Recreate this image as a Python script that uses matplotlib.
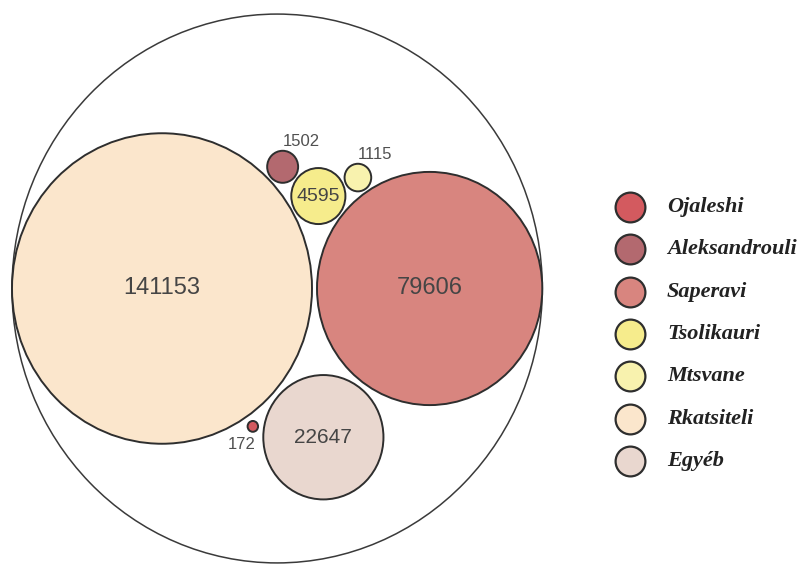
import numpy as np
import matplotlib.pyplot as plt
from matplotlib.patches import Ellipse

# grape varieties and their values
names = ["Ojaleshi", "Aleksandrouli", "Saperavi", "Tsolikauri", "Mtsvane", "Rkatsiteli", "Egyéb"]
values = [172, 1502, 79606, 4595, 1115, 141153, 22647]
colors = ["#d35a5f", "#b3696f", "#d8857f", "#f6ec8c", "#f8f2ae", "#fbe6cc", "#e9d7cf"]

# how the bubbles lean on each other: (bubble, neighbour a, neighbour b, side)
# side +1 = lower solution, -1 = upper solution
order = [(2, 5, None, 0), (6, 5, 2, 1), (3, 5, 2, -1), (1, 5, 3, -1), (4, 3, 2, -1), (0, 5, 6, 1)]

R_MAX = 150.0   # radius of the biggest bubble in px
STRETCH = 1.035  # the picture is a bit taller than wide
ORIGIN = (162.0, 288.5)

radii = R_MAX * np.sqrt(np.array(values) / max(values))
centers = {5: np.array([0.0, 0.0])}


def gap(r):
    return 3.0 if 10 < r < 30 else 6.0


def touch(i, j, r, side):
    ci, cj = centers[i], centers[j]
    d = np.hypot(*(cj - ci))
    a = radii[i] + r + gap(r)
    b = radii[j] + r + gap(r)
    x = (a ** 2 - b ** 2 + d ** 2) / (2 * d)
    h = np.sqrt(max(a ** 2 - x ** 2, 0))
    u = (cj - ci) / d
    n = np.array([-u[1], u[0]])
    p1 = ci + x * u + h * n
    p2 = ci + x * u - h * n
    return p1 if (p1[1] - p2[1]) * side > 0 else p2


for k, i, j, side in order:
    if j is None:
        centers[k] = centers[i] + np.array([radii[i] + radii[k] + 5.0, 0.0])
    else:
        centers[k] = touch(i, j, radii[k], side)


def to_px(p):
    return ORIGIN[0] + p[0], ORIGIN[1] + p[1] * STRETCH


fig = plt.figure(figsize=(8.12, 5.65), dpi=100)
ax = fig.add_axes([0, 0, 1, 1])
ax.set_xlim(0, 812)
ax.set_ylim(565, 0)
ax.axis("off")

# enclosing circle, touching the two biggest bubbles
cA, cB = centers[5], centers[2]
u = (cB - cA) / np.hypot(*(cB - cA))
left = cA - radii[5] * u
right = cB + radii[2] * u
oc = (left + right) / 2
orad = np.hypot(*(right - left)) / 2
ox, oy = to_px(oc)
ax.add_patch(Ellipse((ox, oy), 2 * orad, 2 * orad * STRETCH, facecolor="white",
                     edgecolor="#3a3a3a", lw=1.1, zorder=1))

for i in range(len(values)):
    cx, cy = to_px(centers[i])
    r = radii[i]
    ax.add_patch(Ellipse((cx, cy), 2 * r, 2 * r * STRETCH, facecolor=colors[i],
                         edgecolor="#2e2e2e", lw=1.4, zorder=2))
    if r > 20:
        fs = 17 if r > 100 else (15 if r > 40 else 14)
        ax.text(cx, cy, str(values[i]), ha="center", va="center", fontsize=fs,
                family="Liberation Sans", color="#454545", zorder=3)
    elif names[i] == "Ojaleshi":
        ax.text(cx + 3, cy + r * STRETCH + 5, str(values[i]), ha="right", va="top",
                fontsize=12, family="Liberation Sans", color="#505050", zorder=3)
    else:
        ax.text(cx, cy - r * STRETCH - 2, str(values[i]), ha="left", va="bottom",
                fontsize=12, family="Liberation Sans", color="#505050", zorder=3)

# legend
for k, (name, col) in enumerate(zip(names, colors)):
    y = 207 + k * 42.3
    ax.scatter([630], [y], s=460, facecolor=col, edgecolor="#2e2e2e", linewidth=1.6, zorder=4)
    ax.text(667, y, name, ha="left", va="center", fontsize=16, family="Liberation Serif",
            weight="bold", style="italic", color="#222222")

fig.savefig("out.png", dpi=100)
